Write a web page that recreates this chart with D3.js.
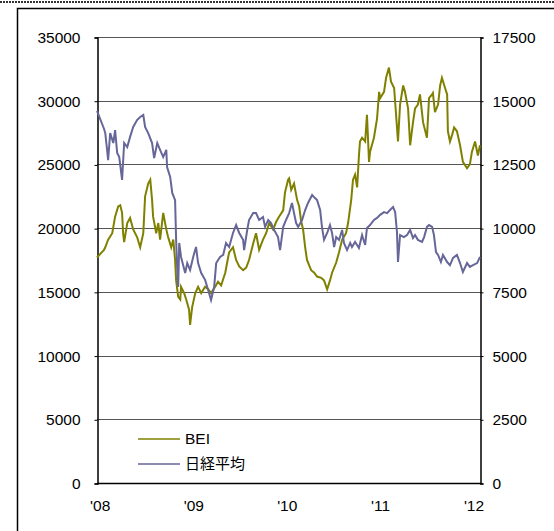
<!DOCTYPE html>
<html>
<head>
<meta charset="utf-8">
<script src="https://cdn.jsdelivr.net/npm/d3@7"></script>
<style>
body { margin: 0; background: #fff; }
svg text { font-family: "Liberation Sans", "Noto Sans CJK JP", sans-serif; font-size: 15.5px; fill: #000; }
svg text.jp { font-family: "Noto Sans CJK JP", sans-serif; font-size: 15px; }
</style>
</head>
<body>
<svg></svg>
<script>
var width = 554,
    height = 531,
    plotLeft = 97,
    plotRight = 481,
    plotTop = 37,
    plotBottom = 483;

var leftTicks = [0, 5000, 10000, 15000, 20000, 25000, 30000, 35000];
var rightTicks = [0, 2500, 5000, 7500, 10000, 12500, 15000, 17500];
var yearTicks = ["2008-01-01", "2009-01-01", "2010-01-01", "2011-01-01", "2012-01-01"];
var yearLabels = ["'08", "'09", "'10", "'11", "'12"];
var seriesNames = ["BEI", "日経平均"];

var beiDates = ["2007-12-08","2008-01-04","2008-01-09","2008-01-20","2008-02-05","2008-02-16","2008-02-28","2008-03-07","2008-03-14","2008-03-18","2008-03-22",
  "2008-04-03","2008-04-14","2008-04-26","2008-05-11","2008-05-23","2008-06-04","2008-06-11","2008-06-23","2008-07-01","2008-07-08",
  "2008-07-12","2008-07-24","2008-08-01","2008-08-08","2008-08-20","2008-09-01","2008-09-08","2008-09-20","2008-09-28","2008-10-05",
  "2008-10-09","2008-10-17","2008-10-25","2008-10-28","2008-11-09","2008-11-17","2008-11-28","2008-12-02","2008-12-10","2008-12-22",
  "2009-01-02","2009-01-14","2009-01-29","2009-02-10","2009-02-21","2009-03-09","2009-03-20","2009-04-01","2009-04-17","2009-04-28",
  "2009-05-02","2009-05-17","2009-05-29","2009-06-10","2009-06-25","2009-07-07","2009-07-18","2009-08-03","2009-08-14","2009-08-26",
  "2009-09-10","2009-09-22","2009-10-04","2009-10-19","2009-10-31","2009-11-11","2009-11-27","2009-12-04","2009-12-16","2009-12-20",
  "2009-12-28","2010-01-08","2010-01-20","2010-01-28","2010-02-04","2010-02-12","2010-02-20","2010-02-27","2010-03-15","2010-03-27",
  "2010-04-07","2010-04-23","2010-05-04","2010-05-16","2010-05-27","2010-06-04","2010-06-20","2010-07-01","2010-07-13","2010-07-28",
  "2010-08-05","2010-08-17","2010-08-24","2010-09-01","2010-09-09","2010-09-16","2010-09-20","2010-09-28","2010-10-10","2010-10-17",
  "2010-10-25","2010-10-29","2010-11-13","2010-11-25","2010-12-03","2010-12-07","2010-12-22","2010-12-30","2011-01-10","2011-01-18",
  "2011-01-30","2011-02-03","2011-02-14","2011-02-22","2011-03-06","2011-03-13","2011-03-25","2011-04-02","2011-04-13","2011-04-21",
  "2011-05-02","2011-05-10","2011-05-22","2011-06-06","2011-06-14","2011-06-26","2011-06-29","2011-07-07","2011-07-19","2011-07-27",
  "2011-08-03","2011-08-15","2011-08-23","2011-08-26","2011-09-03","2011-09-11","2011-09-19","2011-09-30","2011-10-12","2011-10-23",
  "2011-11-08","2011-11-19","2011-11-27","2011-12-09","2011-12-20","2011-12-28"];
var beiValues = [17700,18300,18500,19100,19600,20900,21700,21800,21200,19600,18900,
  20400,20800,19900,19300,18500,19600,22500,23500,23800,22200,
  20900,19600,20400,19100,21200,19900,19300,18500,19100,17500,
  15900,14600,14400,15400,14900,14400,13600,12400,13800,14900,
  15400,14900,15400,15200,14900,15400,15800,15500,16500,17700,
  18100,18500,17500,17000,16700,16900,17500,18800,19600,18300,
  19100,19600,20400,19900,20500,20900,21400,22800,23800,23900,
  23000,23500,22200,21700,20600,19900,18500,17500,16700,16500,
  16200,16100,15900,15200,15900,16500,17300,18100,19100,19600,
  20400,22200,23800,24200,23200,25700,26800,27100,26800,28900,
  25200,26000,27100,28600,30700,30200,30700,31800,32600,31500,
  31000,29900,26800,29700,31200,30700,29400,26500,28300,29400,
  29700,30500,28300,27100,30200,30500,30600,29100,29700,31200,
  31800,31000,30500,27600,26800,27300,27900,27600,26500,25200,
  24700,25000,26000,26800,25700,26500];

var nikkeiDates = ["2007-12-08","2008-01-04","2008-01-09","2008-01-16","2008-01-20","2008-01-28","2008-02-09","2008-02-16","2008-02-24","2008-03-03","2008-03-14",
  "2008-03-22","2008-04-03","2008-04-14","2008-04-26","2008-05-11","2008-05-23","2008-06-04","2008-06-11","2008-06-23","2008-07-08",
  "2008-07-16","2008-07-28","2008-08-08","2008-08-20","2008-09-01","2008-09-04","2008-09-16","2008-09-24","2008-10-05","2008-10-09",
  "2008-10-13","2008-10-17","2008-10-21","2008-10-28","2008-11-13","2008-11-21","2008-12-02","2008-12-14","2008-12-25","2009-01-02",
  "2009-01-14","2009-01-29","2009-02-10","2009-02-21","2009-03-05","2009-03-13","2009-03-28","2009-04-09","2009-04-20","2009-05-02",
  "2009-05-17","2009-05-29","2009-06-10","2009-06-25","2009-06-29","2009-07-11","2009-07-18","2009-08-03","2009-08-14","2009-08-26",
  "2009-09-10","2009-09-18","2009-09-30","2009-10-11","2009-10-23","2009-11-07","2009-11-15","2009-11-27","2009-12-08","2009-12-20",
  "2009-12-31","2010-01-08","2010-01-16","2010-01-24","2010-02-08","2010-02-20","2010-03-03","2010-03-19","2010-03-30","2010-04-07",
  "2010-04-19","2010-04-26","2010-05-04","2010-05-16","2010-05-27","2010-06-04","2010-06-12","2010-06-20","2010-07-01","2010-07-13",
  "2010-07-20","2010-08-01","2010-08-13","2010-08-20","2010-09-01","2010-09-16","2010-09-28","2010-10-10","2010-10-17","2010-10-29",
  "2010-11-13","2010-11-25","2010-12-07","2010-12-22","2011-01-03","2011-01-14","2011-01-26","2011-02-03","2011-02-10","2011-02-14",
  "2011-02-22","2011-03-09","2011-03-21","2011-04-02","2011-04-13","2011-04-21","2011-05-02","2011-05-18","2011-05-26","2011-06-06",
  "2011-06-14","2011-06-26","2011-07-03","2011-07-11","2011-07-19","2011-07-30","2011-08-07","2011-08-23","2011-09-03","2011-09-15",
  "2011-09-30","2011-10-12","2011-10-23","2011-11-08","2011-11-19","2011-12-01","2011-12-17","2011-12-28"];
var nikkeiValues = [14600,13900,13730,13070,12670,13730,13340,13850,12950,12790,11890,
  13340,13180,13580,13970,14240,14360,14440,13970,13730,13340,
  12750,13340,13070,12790,13070,12400,12010,11380,11100,9540,
  8480,7690,9420,8870,8240,8630,8360,8870,9260,8630,
  8240,7970,7570,7180,7690,8630,8870,8950,9420,9260,
  9810,10120,9810,9540,9140,9930,10320,10590,10590,10320,
  10440,10050,10320,10200,9930,9650,9140,10050,10320,10590,
  10990,10590,10200,10050,10320,10710,10990,11300,11180,11100,
  10710,10050,9540,9810,10120,9810,9260,9650,9540,9930,
  9420,9140,9420,9260,9460,9220,9730,9340,10010,10120,
  10320,10400,10520,10630,10590,10710,10830,10630,9850,8670,
  9730,9650,9730,9930,9610,9730,9540,9460,9650,10050,
  10120,10050,9730,9060,8950,8670,8950,8670,8550,8830,
  8950,8630,8280,8630,8480,8550,8630,8870];

var colors = ["#808000", "#666699"];
var parse = d3.timeParse("%Y-%m-%d");

var x = d3.scaleTime()
    .domain([parse("2007-12-08"), parse("2012-01-01")])
    .range([plotLeft, plotRight]);
var yLeft = d3.scaleLinear().domain([0, 35000]).range([plotBottom, plotTop]);
var yRight = d3.scaleLinear().domain([0, 17500]).range([plotBottom, plotTop]);

var svg = d3.select('svg')
  .attr("width", width)
  .attr("height", height);

// outer frame
svg.append("line")
  .attr("x1", 0).attr("x2", width).attr("y1", 2).attr("y2", 2)
  .attr("stroke", "#333").attr("stroke-width", 2).attr("stroke-dasharray", "2,1");
svg.append("path")
  .attr("d", "M17.5," + height + "V8.5H" + width)
  .attr("fill", "none").attr("stroke", "#000").attr("stroke-width", 1.5);

// grid
svg.append("g")
  .selectAll("line")
  .data(leftTicks.slice(1))
  .enter()
    .append("line")
    .attr("x1", plotLeft).attr("x2", plotRight)
    .attr("y1", function(d){return Math.round(yLeft(d)) + 0.5;})
    .attr("y2", function(d){return Math.round(yLeft(d)) + 0.5;})
    .attr("stroke", "#555");

// axes
var axisL = svg.append("g")
  .attr("transform", "translate(" + (plotLeft + 0.5) + ",0.5)")
  .call(d3.axisLeft(yLeft).tickValues(leftTicks).tickSize(3).tickPadding(14).tickFormat(d3.format("d")));
var axisR = svg.append("g")
  .attr("transform", "translate(" + (plotRight - 0.5) + ",0.5)")
  .call(d3.axisRight(yRight).tickValues(rightTicks).tickSize(3).tickPadding(9).tickFormat(d3.format("d")));
[axisL, axisR].forEach(function(a) {
  a.attr("font-family", null).attr("font-size", null);
  a.select(".domain").attr("stroke", "#000").attr("stroke-width", 1.5);
  a.selectAll(".tick line").attr("stroke", "#000");
  a.selectAll("text").attr("fill", "#000");
});
svg.append("line")
  .attr("x1", plotLeft).attr("x2", plotRight)
  .attr("y1", plotBottom + 0.5).attr("y2", plotBottom + 0.5)
  .attr("stroke", "#000").attr("stroke-width", 1.5);

svg.append("g")
  .selectAll("text")
  .data(yearTicks)
  .enter()
    .append("text")
    .attr("x", function(d, i){return x(parse(d)) - 3 - i;})
    .attr("y", 511)
    .attr("text-anchor", "middle")
    .text(function(d, i){return yearLabels[i];});

// lines
var lineL = d3.line()
  .x(function(d){return x(d[0]);})
  .y(function(d){return yLeft(d[1]);});
var lineR = d3.line()
  .x(function(d){return x(d[0]);})
  .y(function(d){return yRight(d[1]);});

svg.append("path")
  .datum(beiDates.map(function(d, i){return [parse(d), beiValues[i]];}))
  .attr("d", lineL)
  .attr("fill", "none").attr("stroke", colors[0]).attr("stroke-width", 2);
svg.append("path")
  .datum(nikkeiDates.map(function(d, i){return [parse(d), nikkeiValues[i]];}))
  .attr("d", lineR)
  .attr("fill", "none").attr("stroke", colors[1]).attr("stroke-width", 2);

// legend
var legend = svg.append("g");
seriesNames.forEach(function(name, i) {
  var ly = 439 + i * 25;
  legend.append("line")
    .attr("x1", 138).attr("x2", 180).attr("y1", ly).attr("y2", ly)
    .attr("stroke", colors[i]).attr("stroke-width", 1.5);
  legend.append("text")
    .attr("class", i ? "jp" : null)
    .attr("x", 185).attr("y", ly + 5)
    .text(name);
});
</script>
</body>
</html>
